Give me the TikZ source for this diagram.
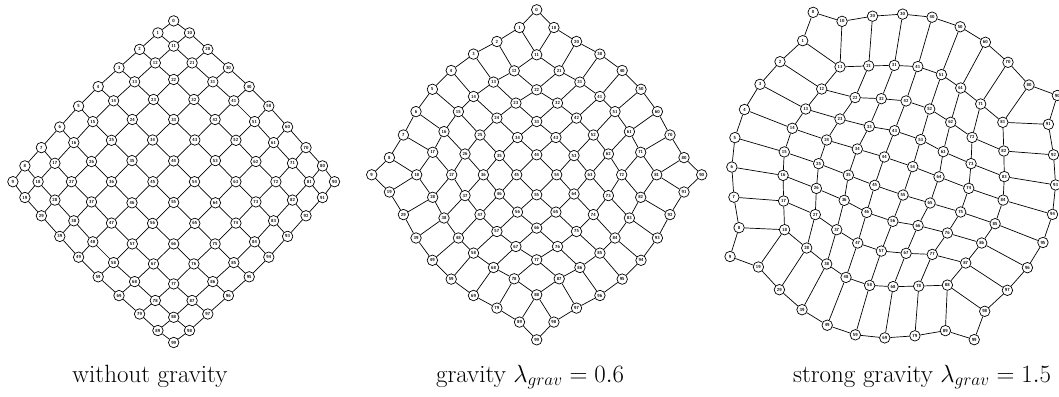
\documentclass[tikz,border=0pt]{standalone}
\begin{document}
\begin{tikzpicture}[x=1pt,y=1pt,
  vtx/.style={circle,draw,line width=0.7pt,fill=white,minimum size=10.5pt,inner sep=0pt,
    font=\fontsize{4.4}{4.4}\selectfont\sffamily\bfseries},
  edge/.style={line width=0.7pt},
  captext/.style={font=\fontsize{25}{25}\selectfont,anchor=base}]
\useasboundingbox (0,0) rectangle (1059,-396);

\newcommand\gridlayout[6]{%
\begin{scope}[shift={(#2,-#3)},rotate=#4]
\foreach \a in {0,...,9}{%
 \foreach \b in {0,...,9}{%
  \pgfmathsetmacro\P{abs(\a-4.5)}%
  \pgfmathsetmacro\Q{abs(\b-4.5)}%
  \pgfmathtruncatemacro\idx{5*round(4.5-max(\P,\Q))+round(4.5-min(\P,\Q))}%
  \pgfmathsetmacro\U{{#5}[\idx]}%
  \pgfmathsetmacro\V{{#6}[\idx]}%
  \pgfmathsetmacro\uu{(\a<4.5 ? -1 : 1)*(\P<\Q ? \V : \U)}%
  \pgfmathsetmacro\vv{(\b<4.5 ? -1 : 1)*(\P<\Q ? \U : \V)}%
  \pgfmathsetmacro\xx{\uu-(\vv)}%
  \pgfmathsetmacro\yy{-(\uu)-(\vv)}%
  \pgfmathtruncatemacro\lab{10*\a+\b}%
  \node[vtx] (#1\a\b) at (\xx,\yy) {\lab};
 }}
\foreach \a in {0,...,9}{%
 \foreach \b in {0,...,8}{%
  \pgfmathtruncatemacro\n{\b+1}%
  \draw[edge] (#1\a\b) -- (#1\a\n);
  \draw[edge] (#1\b\a) -- (#1\n\a);
 }}
\end{scope}}

\gridlayout{A}{173.7}{181.7}{0}
 {80.4,82.3,83.2,84.3,85.3, 0,67.8,68.6,69.5,70.5, 0,0,51.1,51.2,51.8, 0,0,0,31.1,31.4, 0,0,0,0,10.4}
 {80.4,66.5,49.1,29.6,9.8, 0,67.8,50.2,30.4,10.4, 0,0,51.1,31.0,10.4, 0,0,0,31.1,10.3, 0,0,0,0,10.4}

\gridlayout{B}{536.7}{174.8}{0}
 {82.5,82.25,86.55,91.95,94.9, 0,60,63.25,67.95,70.75, 0,0,42.5,46.25,48.25, 0,0,0,26.65,28.25, 0,0,0,0,10}
 {82.5,65.05,46.75,28.75,9.4, 0,60,40.75,24.75,7.55, 0,0,42.5,25.45,8.45, 0,0,0,26.65,9.05, 0,0,0,0,10}

\gridlayout{C}{893.7}{176}{26.2}
 {91.2,91.75,102.16,110.4,115.05, 0,60.8,68.03,74.18,78.75, 0,0,43.7,48.94,53.06, 0,0,0,27.6,30.52, 0,0,0,0,10.6}
 {91.2,69.83,50.6,30.9,10.5, 0,60.8,41.83,24.8,8.82, 0,0,43.7,25.92,8.83, 0,0,0,27.6,9.78, 0,0,0,0,10.6}

\node[captext] (c1) at (150,-382) {without gravity};
\node[captext] (c2) at (530,-382) {gravity $\lambda_{grav} = 0.6$};
\node[captext] (c3) at (922,-382) {strong gravity $\lambda_{grav} = 1.5$};
\end{tikzpicture}
\end{document}
